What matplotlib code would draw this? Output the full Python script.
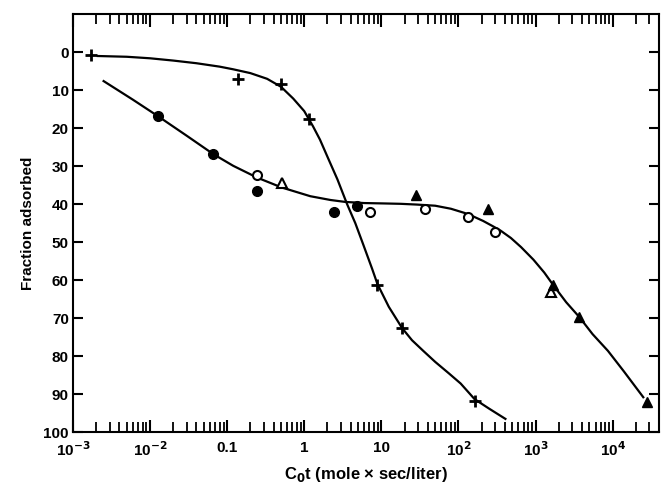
import numpy as np
import matplotlib
matplotlib.use("Agg")
import matplotlib.pyplot as plt
from matplotlib.ticker import FixedLocator, LogLocator, NullFormatter

plt.rcParams["font.family"] = ["Liberation Sans", "DejaVu Sans"]
plt.rcParams["font.weight"] = "bold"
plt.rcParams["mathtext.default"] = "bf"

# puntos medidos
cruz_x = [1.7e-3, 0.14, 0.5, 1.15, 8.9, 18.6, 162]
cruz_y = [0.8, 7.1, 8.4, 17.6, 61.3, 72.6, 91.9]

lleno_x = [0.0126, 0.066, 0.245, 2.4, 4.9]
lleno_y = [16.8, 26.8, 36.6, 42.0, 40.5]

abierto_x = [0.245, 7.2, 37, 135, 302]
abierto_y = [32.4, 42.0, 41.3, 43.4, 47.4]

tri_abierto_x = [0.51, 1600]
tri_abierto_y = [34.5, 63.0]

tri_lleno_x = [28, 240, 1700, 3700, 28000]
tri_lleno_y = [37.6, 41.3, 61.3, 69.7, 92.0]

# curvas dibujadas a mano
curva1_x = [2.1e-3, 0.005, 0.01, 0.02, 0.04, 0.08, 0.12, 0.2, 0.33, 0.5, 0.72, 1.0,
            1.3, 1.6, 2.05, 2.7, 3.6, 4.6, 5.8, 7.6, 8.9, 12.5, 18.6, 25, 35, 50,
            75, 107, 162, 250, 407]
curva1_y = [1.0, 1.2, 1.6, 2.2, 2.9, 3.8, 4.5, 5.5, 7.0, 9.1, 12.2, 15.5,
            19.5, 23, 28, 33.5, 40, 45, 50.5, 57, 61, 67, 72.6, 75.8, 78.6, 81.5,
            84.5, 87.2, 91.3, 93.8, 96.5]

curva2_x = [2.5e-3, 0.006, 0.0126, 0.03, 0.066, 0.12, 0.245, 0.51, 1.2, 2.2, 3.4,
            6, 10.7, 17.8, 29, 50, 80, 120, 155, 209, 280, 355, 480, 650, 940,
            1300, 1700, 2500, 3700, 5500, 8700, 14000, 25000]
curva2_y = [7.6, 12.5, 16.8, 22.0, 26.8, 29.9, 33.0, 35.6, 37.9, 38.9, 39.4,
            39.7, 39.8, 39.9, 40.1, 40.4, 41.2, 42.3, 43.2, 44.4, 45.8, 47.0, 48.9,
            51.3, 54.6, 58.0, 61.3, 65.8, 69.7, 74.2, 78.6, 84.0, 90.8]

xticks = [1e-3, 1e-2, 0.1, 1, 10, 100, 1e3, 1e4]
xticklabels = ["10$^{-3}$", "10$^{-2}$", "0.1", "1", "10", "10$^{2}$", "10$^{3}$", "10$^{4}$"]
yticks = [0, 10, 20, 30, 40, 50, 60, 70, 80, 90, 100]

fig = plt.figure(figsize=(6.63, 4.9), dpi=100)
ax = fig.add_axes([0.110, 0.118, 0.884, 0.853])

ax.plot(curva1_x, curva1_y, color="black", lw=1.6)
ax.plot(curva2_x, curva2_y, color="black", lw=1.6)

ax.plot(cruz_x, cruz_y, "+", color="black", ms=9, mew=2.0)
ax.plot(lleno_x, lleno_y, "o", color="black", ms=7)
ax.plot(abierto_x, abierto_y, "o", mfc="white", mec="black", ms=6.5, mew=1.5)
ax.plot(tri_abierto_x, tri_abierto_y, "^", mfc="white", mec="black", ms=6.5, mew=1.5)
ax.plot(tri_lleno_x, tri_lleno_y, "^", color="black", ms=7)

ax.set_xscale("log")
ax.set_xlim(1e-3, 4e4)
ax.set_ylim(100, -10)

ax.xaxis.set_major_locator(FixedLocator(xticks))
ax.set_xticklabels(xticklabels)
ax.xaxis.set_minor_locator(LogLocator(base=10, subs=np.arange(2, 10), numticks=20))
ax.xaxis.set_minor_formatter(NullFormatter())
ax.set_yticks(yticks)

ax.tick_params(axis="x", which="major", direction="in", top=True, bottom=True,
               length=9, width=1.5, labelsize=11, pad=6)
ax.tick_params(axis="x", which="minor", direction="in", top=True, bottom=True,
               length=7, width=1.3)
ax.tick_params(axis="y", which="major", direction="in", left=True, right=True,
               length=7, width=1.5, labelsize=11, pad=3)
for s in ax.spines.values():
    s.set_linewidth(1.5)

ax.set_ylabel("Fraction adsorbed", fontsize=11, fontweight="bold", labelpad=6)
ax.set_xlabel("C$_{0}$t (mole × sec/liter)", fontsize=12, fontweight="bold", labelpad=4)

plt.savefig("out.png", dpi=100)
